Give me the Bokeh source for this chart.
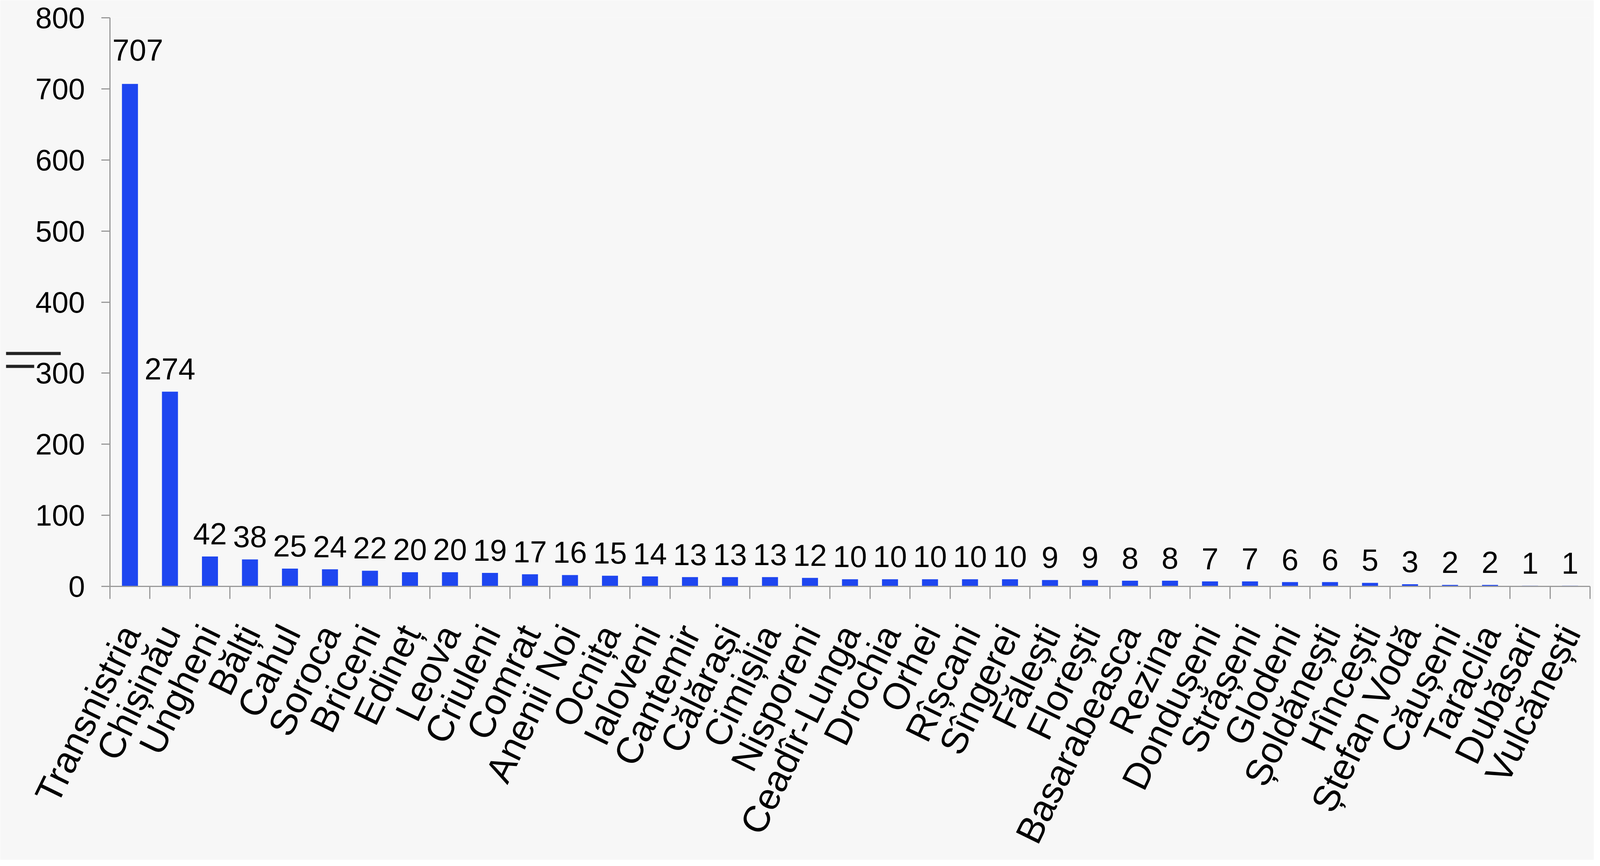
import math
from bokeh.plotting import figure
from bokeh.models import ColumnDataSource, Range1d, FixedTicker, LabelSet, LinearAxis
from bokeh.core.properties import value
from bokeh.embed import file_html
from bokeh.resources import INLINE

districts = ["Transnistria", "Chișinău", "Ungheni", "Bălți", "Cahul", "Soroca", "Briceni",
             "Edineț", "Leova", "Criuleni", "Comrat", "Anenii Noi", "Ocnița", "Ialoveni",
             "Cantemir", "Călărași", "Cimișlia", "Nisporeni", "Ceadîr-Lunga", "Drochia",
             "Orhei", "Rîșcani", "Sîngerei", "Fălești", "Florești", "Basarabeasca", "Rezina",
             "Dondușeni", "Strășeni", "Glodeni", "Șoldănești", "Hîncești", "Ștefan Vodă",
             "Căușeni", "Taraclia", "Dubăsari", "Vulcănești"]
counts = [707, 274, 42, 38, 25, 24, 22, 20, 20, 19, 17, 16, 15, 14, 13, 13, 13, 12, 10, 10,
          10, 10, 10, 9, 9, 8, 8, 7, 7, 6, 6, 5, 3, 2, 2, 1, 1]
y_ticks = [0, 100, 200, 300, 400, 500, 600, 700, 800]

n = len(districts)
xs = [i + 0.5 for i in range(n)]
src = ColumnDataSource(dict(x=xs, top=counts, label=[str(c) for c in counts]))
# the tallest bar's label sits a little apart from the others, as in the original
src_first = ColumnDataSource(dict(x=xs[:1], top=counts[:1], label=[str(c) for c in counts[:1]]))
src_rest = ColumnDataSource(dict(x=xs[1:], top=counts[1:], label=[str(c) for c in counts[1:]]))

BG = "#f7f7f7"
AX = "#999999"
FONT = "Liberation Sans"

FIG_W, FIG_H = 4080, 2200
BORDER_L, BORDER_R, BORDER_T, BORDER_B = 281, 10, 45, 699
Y_MAX = 800

p = figure(width=FIG_W, height=FIG_H, x_range=Range1d(0, n), y_range=Range1d(0, Y_MAX),
           output_backend="svg", toolbar_location=None,
           min_border_left=BORDER_L, min_border_right=BORDER_R,
           min_border_top=BORDER_T, min_border_bottom=BORDER_B,
           background_fill_color=BG, border_fill_color=BG)
p.outline_line_color = None
p.grid.visible = False

p.vbar(x="x", top="top", bottom=0, width=0.4, source=src,
       fill_color="#1e46f0", line_color=None)

label_style = dict(text_align="center", text_baseline="alphabetic", text_font=value(FONT),
                   text_font_size="78px", text_color="black")
p.add_layout(LabelSet(x="x", y="top", text="label", source=src_rest, y_offset=31, **label_style))
p.add_layout(LabelSet(x="x", y="top", text="label", source=src_first, x_offset=20, y_offset=60,
                      **label_style))

ya = p.yaxis[0]
ya.ticker = FixedTicker(ticks=y_ticks)
ya.axis_line_color = AX
ya.axis_line_width = 3
ya.major_tick_in = 0
ya.major_tick_out = 22
ya.major_tick_line_color = AX
ya.major_tick_line_width = 3
ya.minor_tick_line_color = None
ya.major_label_text_font = FONT
ya.major_label_text_font_size = "76px"
ya.major_label_text_color = "black"
ya.major_label_standoff = 42

xa = p.xaxis[0]
xa.ticker = FixedTicker(ticks=xs, minor_ticks=list(range(n + 1)))
xa.major_label_overrides = {x: name for x, name in zip(xs, districts)}
xa.axis_line_color = AX
xa.axis_line_width = 3
xa.major_tick_in = 0
xa.major_tick_out = 0
xa.minor_tick_in = 0
xa.minor_tick_out = 32
xa.minor_tick_line_color = AX
xa.minor_tick_line_width = 3
xa.major_label_orientation = math.radians(64)
xa.major_label_text_font = FONT
xa.major_label_text_font_size = "95px"
xa.major_label_text_color = "black"
xa.major_label_standoff = 73

# the two short dark strokes left of the value axis (an empty axis whose ticks draw them)
frame_h = FIG_H - BORDER_T - BORDER_B


def fig_y_to_data(fy):
    return (FIG_H - BORDER_B - fy) / frame_h * Y_MAX


long_mark = fig_y_to_data(905)
short_mark = fig_y_to_data(938)
deco = LinearAxis(ticker=FixedTicker(ticks=[long_mark], minor_ticks=[short_mark]))
deco.axis_line_color = None
deco.major_tick_line_color = "#222222"
deco.major_tick_line_width = 8
deco.major_tick_in = 68
deco.major_tick_out = 72
deco.minor_tick_line_color = "#222222"
deco.minor_tick_line_width = 8
deco.minor_tick_in = 0
deco.minor_tick_out = 72
deco.major_label_overrides = {long_mark: ""}
deco.major_label_text_font_size = "1px"
deco.major_label_standoff = 0
p.add_layout(deco, "left")

open("out.html", "w").write(file_html(p, INLINE))
